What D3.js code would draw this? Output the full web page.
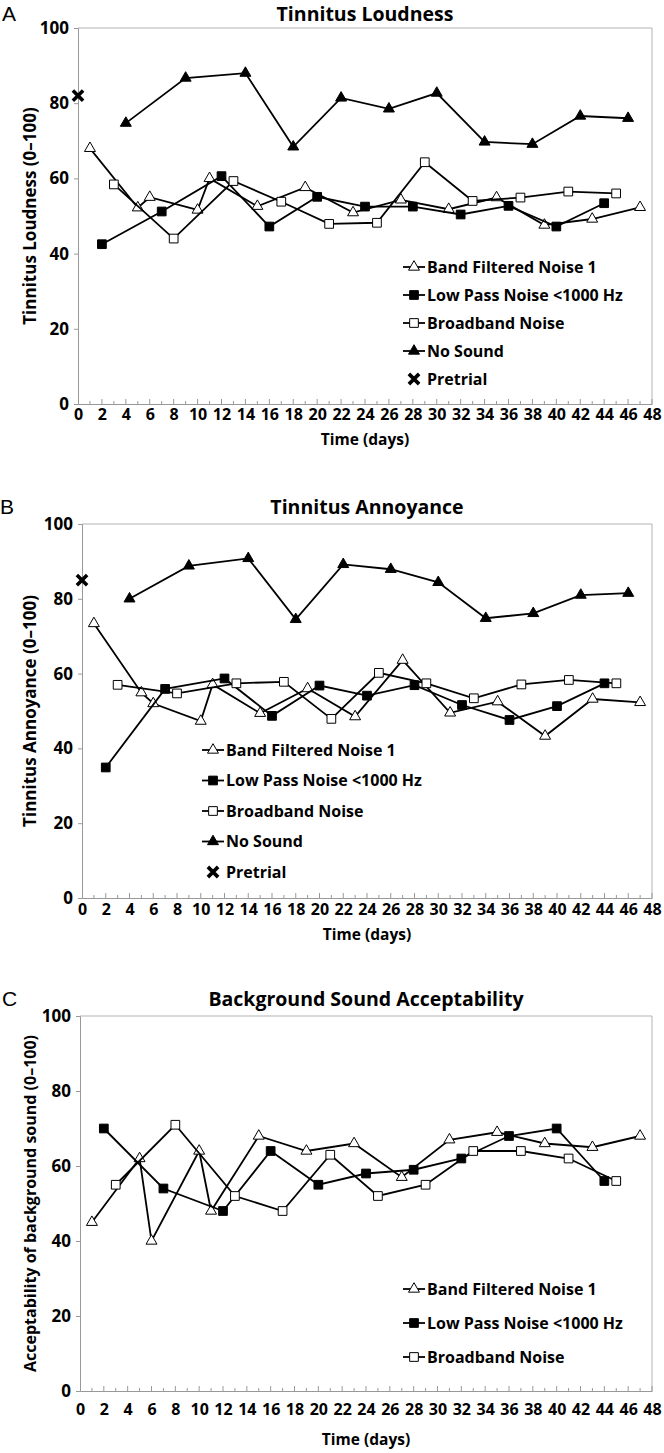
<!DOCTYPE html>
<html><head><meta charset="utf-8">
<script src="https://cdn.jsdelivr.net/npm/d3@7"></script>
<style>
body{margin:0;background:#fff;}
text{font-family:"Open Sans",sans-serif;font-weight:bold;fill:#000;}
</style></head><body>
<script>
// ---------- DATA ----------
const xTickLabels = [0,2,4,6,8,10,12,14,16,18,20,22,24,26,28,30,32,34,36,38,40,42,44,46,48];
const yTickLabels = [0,20,40,60,80,100];
const seriesNames = ["Band Filtered Noise 1","Low Pass Noise <1000 Hz","Broadband Noise","No Sound","Pretrial"];

const bandDays    = [1,5,6,10,11,15,19,23,27,31,35,39,43,47];
const lowDays     = [2,7,12,16,20,24,28,32,36,40,44];
const broadDays   = [3,8,13,17,21,25,29,33,37,41,45];
const noSoundDays = [4,9,14,18,22,26,30,34,38,42,46];
const pretrialDay = [0];

// Panel A: Tinnitus Loudness
const loudBand    = [68,52.2,55,51.6,60,52.6,57.6,50.9,54.3,51.8,54.9,47.6,49.2,52.3];
const loudLow     = [42.5,51.2,60.6,47.2,55.1,52.5,52.5,50.4,52.7,47.2,53.4];
const loudBroad   = [58.4,44,59.3,53.8,47.9,48.2,64.3,54,54.9,56.5,56];
const loudNoSound = [74.7,86.7,88,68.4,81.4,78.5,82.7,69.7,69.1,76.6,76];
const loudPretrial= [82];

// Panel B: Tinnitus Annoyance
const annBand     = [73.4,54.9,52,47.3,57.1,49.4,56,48.5,63.6,49.5,52.5,43.3,53.2,52.3];
const annLow      = [34.9,55.9,58.7,48.7,56.8,54.1,56.9,51.6,47.6,51.3,57.4];
const annBroad    = [57,54.7,57.4,57.8,47.9,60.2,57.4,53.4,57.1,58.3,57.4];
const annNoSound  = [80,88.8,90.8,74.5,89.2,87.9,84.4,74.8,76.1,81,81.5];
const annPretrial = [85];

// Panel C: Background Sound Acceptability
const accBand     = [45,62,40,64,48,68,64,66,57,67,69,66,65,68];
const accLow      = [70,54,48,64,55,58,59,62,68,70,56];
const accBroad    = [55,71,52,48,63,52,55,64,64,62,56];

// ---------- DRAW ----------
const W = 664, H = 1453;
const svg = d3.select("body").append("svg").attr("width",W).attr("height",H);

const markerTypes = ["openTri","fillSq","openSq","fillTri","x"];

function drawMarker(g, type, x, y){
  if(type==="openTri"||type==="fillTri"){
    g.append("path").attr("d", d3.symbol(d3.symbolTriangle, 52)())
      .attr("transform",`translate(${x},${y})`)
      .attr("fill", type==="fillTri"?"#000":"#fff").attr("stroke","#000").attr("stroke-width",1);
  } else if(type==="openSq"||type==="fillSq"){
    g.append("path").attr("d", d3.symbol(d3.symbolSquare, 76)())
      .attr("transform",`translate(${x},${y})`)
      .attr("fill", type==="fillSq"?"#000":"#fff").attr("stroke","#000").attr("stroke-width",1);
  } else {
    g.append("path").attr("d", d3.symbol(d3.symbolX, 70)())
      .attr("transform",`translate(${x},${y})`)
      .attr("fill","none").attr("stroke","#000").attr("stroke-width",3.6);
  }
}

function drawPanel(cfg){
  const g = svg.append("g");
  const x = d3.scaleLinear().domain([0,48]).range([cfg.left,cfg.right]);
  const y = d3.scaleLinear().domain([0,100]).range([cfg.bottom,cfg.top]);

  // plot border (top & right)
  g.append("path").attr("d",`M${cfg.left},${cfg.top}H${cfg.right}V${cfg.bottom}`)
    .attr("fill","none").attr("stroke","#b3b3b3").attr("stroke-width",1);

  // y axis
  const yAx = g.append("g").attr("transform",`translate(${cfg.left},0)`)
    .call(d3.axisLeft(y).tickValues(yTickLabels).tickSize(4).tickPadding(5));
  yAx.select(".domain").attr("stroke","#999");
  yAx.selectAll(".tick line").attr("stroke","#999");
  yAx.selectAll("text").attr("font-size",17).attr("font-family","Open Sans").attr("font-weight","bold").attr("fill","#000");

  // x axis: minor ticks every day inside, labels every 2
  const xAx = g.append("g").attr("transform",`translate(0,${cfg.bottom})`)
    .call(d3.axisBottom(x).tickValues(xTickLabels).tickSize(0).tickPadding(cfg.xLabelPad));
  xAx.select(".domain").attr("stroke","#999");
  xAx.selectAll("text").attr("font-size",16).attr("font-family","Open Sans").attr("font-weight","bold").attr("fill","#000");
  const minor = d3.range(1,49);
  g.append("g").selectAll("line").data(minor).join("line")
    .attr("x1",d=>x(d)).attr("x2",d=>x(d))
    .attr("y1",cfg.bottom).attr("y2",d=>cfg.bottom-(d%2===0?5:3))
    .attr("stroke","#999").attr("stroke-width",1);

  // titles
  g.append("text").attr("x",(cfg.left+cfg.right)/2).attr("y",cfg.titleY)
    .attr("text-anchor","middle").attr("font-size",19.5).text(cfg.title);
  g.append("text").attr("x",cfg.letterX).attr("y",cfg.titleY)
    .attr("font-size",21).style("font-weight","normal").style("font-family","Liberation Sans, Arial").text(cfg.letter);
  g.append("text").attr("x",(cfg.left+cfg.right)/2).attr("y",cfg.xTitleY)
    .attr("text-anchor","middle").attr("font-size",15.5).text("Time (days)");
  g.append("text").attr("transform",`translate(${cfg.yTitleX},${(cfg.top+cfg.bottom)/2}) rotate(-90)`)
    .attr("text-anchor","middle").attr("font-size",cfg.yTitleSize).text(cfg.yTitle);

  // series
  const line = d3.line().x(d=>x(d[0])).y(d=>y(d[1]));
  cfg.series.forEach(s=>{
    const pts = s.days.map((d,i)=>[d,s.values[i]]);
    if(s.type!=="x"){
      g.append("path").attr("d",line(pts)).attr("fill","none").attr("stroke","#000").attr("stroke-width",1.8);
    }
    pts.forEach(p=>drawMarker(g,s.type,x(p[0]),y(p[1])));
  });

  // legend
  cfg.series.forEach((s,i)=>{
    const ly = cfg.legY + i*cfg.legDY;
    const lx = cfg.legX;
    if(s.type!=="x"){
      g.append("line").attr("x1",lx).attr("x2",lx+22).attr("y1",ly).attr("y2",ly)
        .attr("stroke","#000").attr("stroke-width",1.8);
    }
    drawMarker(g,s.type,lx+11,ly);
    g.append("text").attr("x",lx+24).attr("y",ly).attr("dy","0.36em")
      .attr("font-size",16).text(s.name);
  });
}

drawPanel({
  letter:"A", letterX:2, title:"Tinnitus Loudness", yTitle:"Tinnitus Loudness (0\u2013100)",
  left:78, right:652, top:28, bottom:404, titleY:21, xLabelPad:5, xTitleY:445, yTitleX:36, yTitleSize:17,
  legX:403, legY:267, legDY:28,
  series:[
    {name:seriesNames[0], type:markerTypes[0], days:bandDays, values:loudBand},
    {name:seriesNames[1], type:markerTypes[1], days:lowDays, values:loudLow},
    {name:seriesNames[2], type:markerTypes[2], days:broadDays, values:loudBroad},
    {name:seriesNames[3], type:markerTypes[3], days:noSoundDays, values:loudNoSound},
    {name:seriesNames[4], type:markerTypes[4], days:pretrialDay, values:loudPretrial}
  ]
});
drawPanel({
  letter:"B", letterX:0, title:"Tinnitus Annoyance", yTitle:"Tinnitus Annoyance (0\u2013100)",
  left:82, right:652, top:524, bottom:898, titleY:514, xLabelPad:6, xTitleY:940, yTitleX:36, yTitleSize:17,
  legX:202, legY:750, legDY:30.5,
  series:[
    {name:seriesNames[0], type:markerTypes[0], days:bandDays, values:annBand},
    {name:seriesNames[1], type:markerTypes[1], days:lowDays, values:annLow},
    {name:seriesNames[2], type:markerTypes[2], days:broadDays, values:annBroad},
    {name:seriesNames[3], type:markerTypes[3], days:noSoundDays, values:annNoSound},
    {name:seriesNames[4], type:markerTypes[4], days:pretrialDay, values:annPretrial}
  ]
});
drawPanel({
  letter:"C", letterX:2, title:"Background Sound Acceptability", yTitle:"Acceptability of background sound (0\u2013100)",
  left:80, right:652, top:1016, bottom:1391, titleY:1006, xLabelPad:13, xTitleY:1445, yTitleX:36, yTitleSize:16,
  legX:403, legY:1289, legDY:34,
  series:[
    {name:seriesNames[0], type:markerTypes[0], days:bandDays, values:accBand},
    {name:seriesNames[1], type:markerTypes[1], days:lowDays, values:accLow},
    {name:seriesNames[2], type:markerTypes[2], days:broadDays, values:accBroad}
  ]
});
</script>
</body></html>
